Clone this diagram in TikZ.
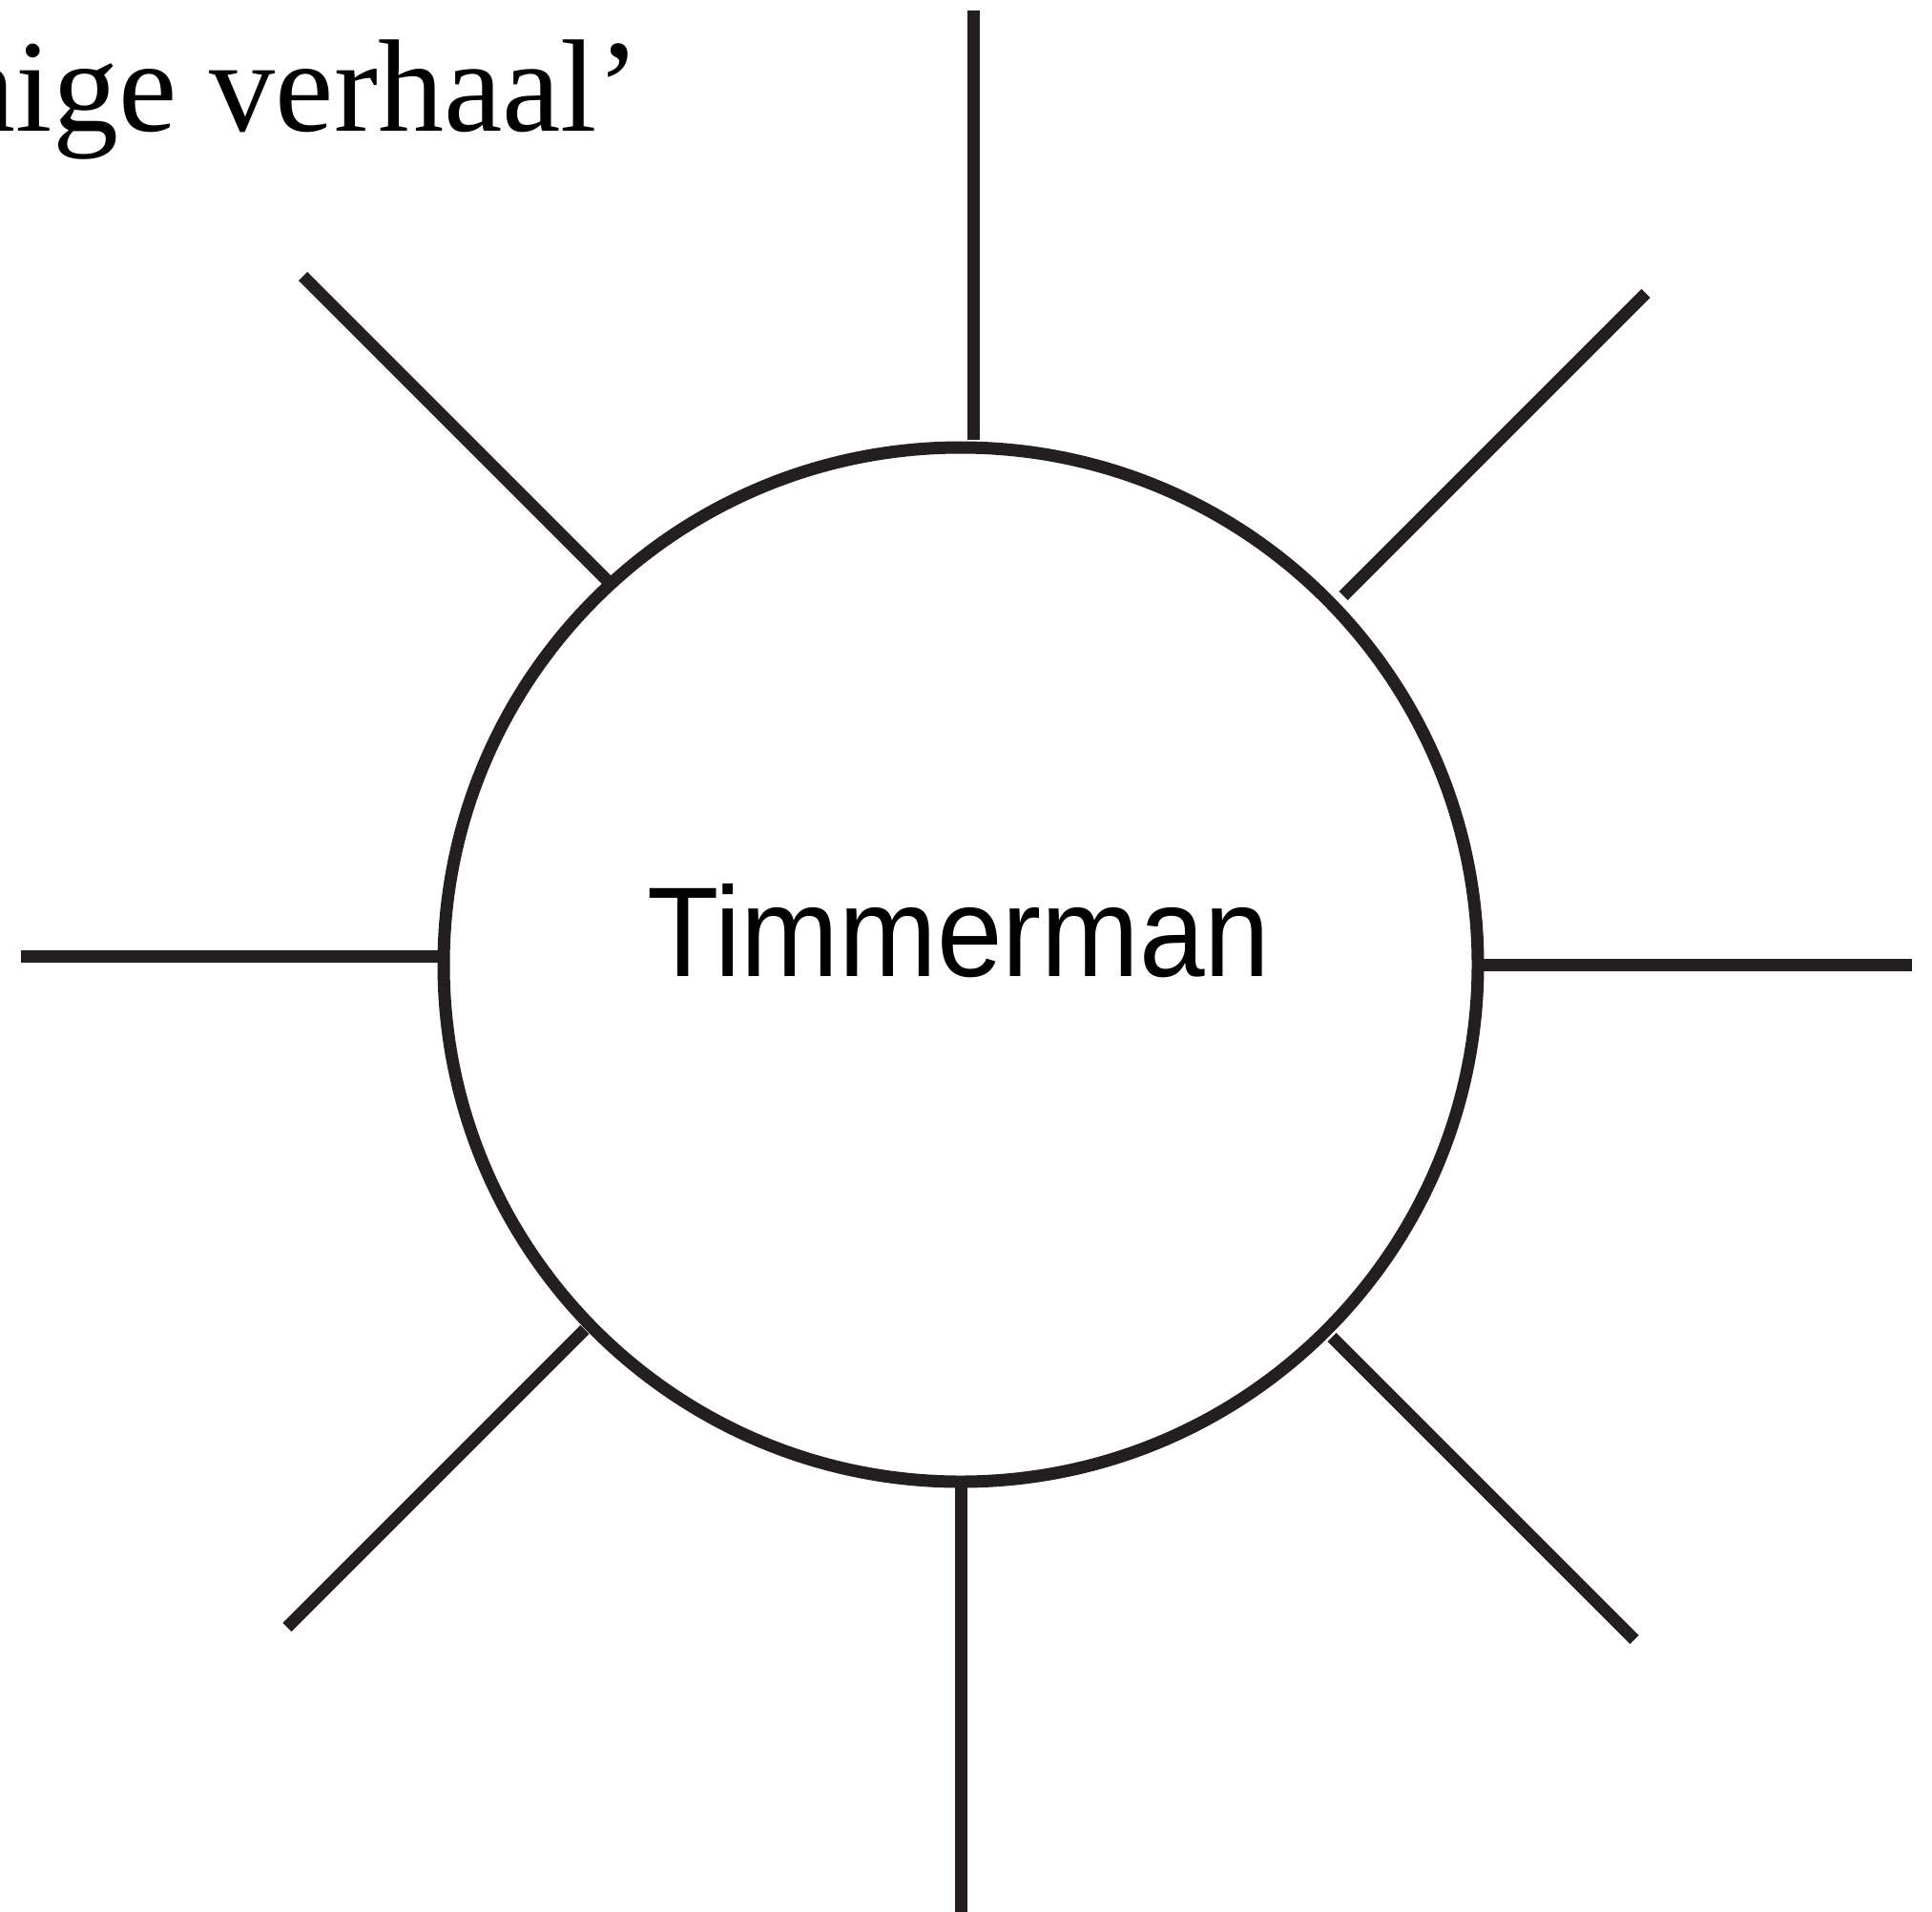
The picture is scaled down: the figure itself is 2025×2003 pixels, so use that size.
\documentclass[tikz,border=0pt]{standalone}
\usepackage{fontspec}
\newfontfamily\sansf{Liberation Sans}
\newfontfamily\seriff{Liberation Serif}
\definecolor{ink}{HTML}{231F20}
\tikzset{
  ray/.style={draw=ink, line width=13pt, line cap=butt},
  ring/.style={circle, draw=ink, line width=13pt, inner sep=0pt, minimum size=1084pt},
  label/.style={inner sep=0pt, text=black}
}
\begin{document}
\begin{tikzpicture}[x=1pt,y=-1pt]
\useasboundingbox (0,0) rectangle (2025,2003);
\node[ring] (c) at (1007,1011) {};
\node[label, anchor=base, font=\sansf\fontsize{134}{140}\selectfont] (t) at (1005,1023) {\scalebox{0.92}[1]{Timmerman}};
\node[label, anchor=base east, font=\seriff\fontsize{138}{145}\selectfont] (q) at (672,137) {nige verhaal’};
% ray ends
\coordinate (nO) at (1020.5,11);
\coordinate (nI) at (1020.5,461);
\coordinate (wO) at (22,1002.5);
\coordinate (wI) at (471,1002.5);
\coordinate (eI) at (1554,1011);
\coordinate (eO) at (2004,1011);
\coordinate (sI) at (1007,1557);
\coordinate (sO) at (1007,2010);
\coordinate (nwO) at (317.5,289.5);
\coordinate (nwI) at (637,609);
\coordinate (neO) at (1725,307.5);
\coordinate (neI) at (1408,624.5);
\coordinate (swO) at (301,1705.5);
\coordinate (swI) at (613,1393.5);
\coordinate (seO) at (1713,1718.5);
\coordinate (seI) at (1396,1401.5);
\draw[ray] (nO) -- (nI);
\draw[ray] (wO) -- (wI);
\draw[ray] (eI) -- (eO);
\draw[ray] (sI) -- (sO);
\draw[ray] (nwO) -- (nwI);
\draw[ray] (neO) -- (neI);
\draw[ray] (swO) -- (swI);
\draw[ray] (seO) -- (seI);
\end{tikzpicture}
\end{document}
